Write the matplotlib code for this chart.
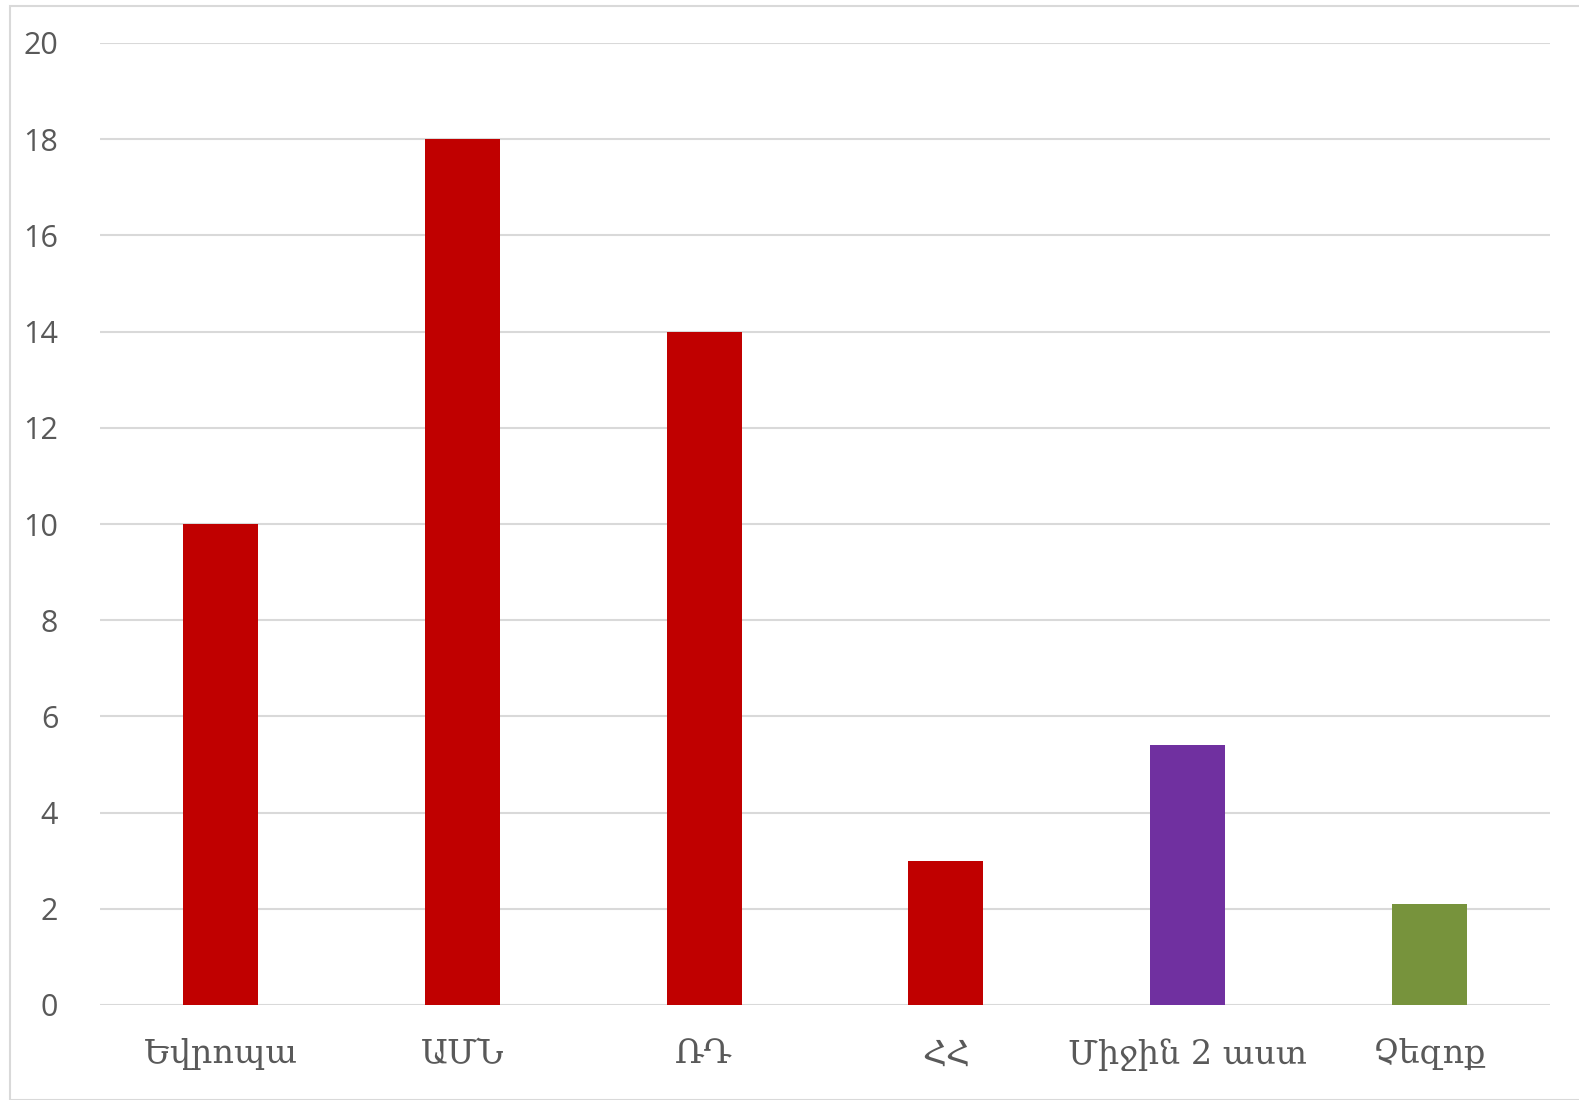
import matplotlib
matplotlib.use('Agg')
import matplotlib.pyplot as plt
from matplotlib.patches import Rectangle

categories = ['Եվրոպա', 'ԱՄՆ', 'ՌԴ', 'ՀՀ', 'Միջին 2 աստ', 'Չեզոք']
values = [10, 18, 14, 3, 5.4, 2.1]
colors = ['#C00000', '#C00000', '#C00000', '#C00000', '#7030A0', '#77933C']
yticks = [0, 2, 4, 6, 8, 10, 12, 14, 16, 18, 20]

fig = plt.figure(figsize=(15.79, 11), dpi=100)
ax = fig.add_axes([100 / 1579, 1 - 1005 / 1100, 1450 / 1579, 962 / 1100])

x = range(len(categories))
ax.bar(x, values, width=0.31, color=colors, zorder=3)

ax.set_xlim(-0.5, len(categories) - 0.5)
ax.set_ylim(0, 20)
ax.set_yticks(yticks)
ax.set_yticklabels([str(t) for t in yticks], fontsize=22, color='#595959',
                   family=['Open Sans', 'DejaVu Sans'])
ax.set_xticks(list(x))
ax.set_xticklabels(categories, fontsize=24, color='#595959',
                   family=['DejaVu Serif', 'DejaVu Sans'])
ax.tick_params(axis='both', length=0)
ax.tick_params(axis='y', pad=30)
ax.tick_params(axis='x', pad=24)
ax.grid(True, axis='y', color='#D9D9D9', linewidth=1.5, zorder=0)
for s in ax.spines.values():
    s.set_visible(False)

# chart area border
fig.patches.append(Rectangle((10 / 1579, 0.0), 1.0, 1 - 6 / 1100,
                             transform=fig.transFigure, fill=False,
                             edgecolor='#D9D9D9', linewidth=1.5))

fig.savefig('out.png', dpi=100)
